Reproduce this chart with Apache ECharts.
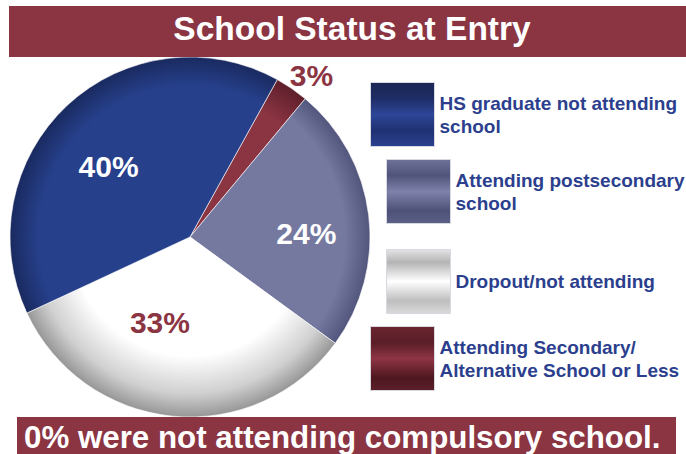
<!DOCTYPE html>
<html>
<head>
<meta charset="utf-8">
<script src="https://cdn.jsdelivr.net/npm/echarts@6/dist/echarts.min.js"></script>
<style>
  html, body { margin: 0; padding: 0; background: #ffffff; }
  #chart { width: 686px; height: 454px; }
</style>
</head>
<body>
<div id="chart"></div>
<script>
// School status of participants at program entry (percent of total)
const categories = [
  'Attending Secondary/ Alternative School or Less',
  'Attending postsecondary school',
  'Dropout/not attending',
  'HS graduate not attending school'
];
const values = [3, 24, 33, 40];
const legendLabels = [
  'Attending Secondary/\nAlternative School or Less',
  'Attending postsecondary\nschool',
  'Dropout/not attending',
  'HS graduate not attending\nschool'
];
const titleText = 'School Status at Entry';
const footnoteText = '0% were not attending compulsory school.';

const FONT = '"Liberation Sans", Arial, Helvetica, sans-serif';
const MAROON = '#8B3442';
const LEGEND_BLUE = '#2C3F8E';
const CX = 190, CY = 237, R = 180;

// spherical shading: flat colour toward the centre, darker toward the rim
function rimShade(main, edge, from) {
  return new echarts.graphic.RadialGradient(CX, CY, R, [
    { offset: 0, color: main },
    { offset: from, color: main },
    { offset: 1, color: edge }
  ], true);
}
// banded swatch fill for the legend keys
function bands(stops) {
  return {
    type: 'linear', x: 0, y: 0, x2: 0, y2: 1,
    colorStops: stops.map(s => ({ offset: s[0], color: s[1] }))
  };
}

const sliceFill = [
  rimShade('#8B3442', '#5E1F2B', 0.8),
  rimShade('#75799F', '#52567C', 0.86),
  new echarts.graphic.RadialGradient(CX, CY, R, [
    { offset: 0, color: '#ffffff' },
    { offset: 0.66, color: '#ffffff' },
    { offset: 0.87, color: '#d0d0d0' },
    { offset: 1, color: '#969696' }
  ], true),
  rimShade('#26408B', '#1A2A60', 0.84)
];
const swatchFill = [
  bands([[0, '#6A2530'], [0.25, '#5A1E28'], [0.5, '#8E3444'], [0.8, '#4E1820'], [1, '#5C1F2A']]),
  bands([[0, '#6E7298'], [0.25, '#50547A'], [0.5, '#7E82AA'], [0.8, '#4E5278'], [1, '#5C6088']]),
  bands([[0, '#E4E4E4'], [0.2, '#B4B4B4'], [0.5, '#FFFFFF'], [0.8, '#BEBEBE'], [1, '#DADADA']]),
  bands([[0, '#1B2653'], [0.25, '#1E2D66'], [0.5, '#2D4698'], [0.75, '#1F3172'], [1, '#2A4190']])
];
const labelColor = [MAROON, '#ffffff', MAROON, '#ffffff'];
const labelShift = [[69, -85], [24, 8], [-21, -7], [-18, -2]];

// one legend block per key, each placed on its own
const legendPos = [
  { left: 370, top: 326 },
  { left: 386, top: 159 },
  { left: 386, top: 249 },
  { left: 370, top: 82 }
];

const chart = echarts.init(document.getElementById('chart'), null, { renderer: 'svg' });

chart.setOption({
  backgroundColor: '#ffffff',
  animation: false,
  legend: categories.map((name, i) => ({
    data: [{ name: name, itemStyle: { color: swatchFill[i], borderColor: '#d8d8e0', borderWidth: 1 } }],
    left: legendPos[i].left,
    top: legendPos[i].top,
    orient: 'vertical',
    padding: 0,
    itemWidth: 64,
    itemHeight: 64,
    icon: 'rect',
    selectedMode: false,
    formatter: n => legendLabels[categories.indexOf(n)],
    textStyle: {
      fontFamily: FONT, fontWeight: 'bold', fontSize: 19, lineHeight: 23, color: LEGEND_BLUE
    }
  })),
  series: [{
    type: 'pie',
    center: [CX, CY],
    radius: R,
    startAngle: 61,
    clockwise: true,
    avoidLabelOverlap: false,
    silent: true,
    label: {
      show: true,
      position: 'inside',
      formatter: '{c}%',
      fontFamily: FONT,
      fontWeight: 'bold',
      fontSize: 30
    },
    labelLine: { show: false },
    labelLayout: p => ({ dx: labelShift[p.dataIndex][0], dy: labelShift[p.dataIndex][1] }),
    data: categories.map((name, i) => ({
      name: name,
      value: values[i],
      itemStyle: { color: sliceFill[i], borderColor: 'rgba(255,255,255,0.75)', borderWidth: 0.8 },
      label: { color: labelColor[i] }
    }))
  }],
  graphic: [
    { type: 'rect', shape: { x: 9, y: 6, width: 677, height: 51 }, style: { fill: MAROON }, z: 10 },
    { type: 'text', x: 352, y: 28, z: 11,
      style: { text: titleText, fill: '#ffffff', font: 'bold 33.5px ' + FONT, textAlign: 'center', textVerticalAlign: 'middle' } },
    { type: 'rect', shape: { x: 17, y: 417, width: 659, height: 37 }, style: { fill: MAROON }, z: 10 },
    { type: 'text', x: 24, y: 437, z: 11,
      style: { text: footnoteText, fill: '#ffffff', font: 'bold 31.3px ' + FONT, textAlign: 'left', textVerticalAlign: 'middle' } }
  ]
});
</script>
</body>
</html>
